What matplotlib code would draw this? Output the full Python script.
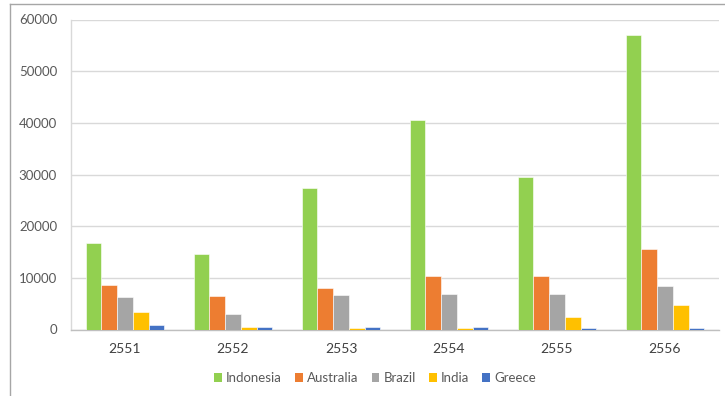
import matplotlib
matplotlib.use("Agg")
import matplotlib.pyplot as plt
from matplotlib.lines import Line2D
from matplotlib.patches import Patch
import numpy as np

years = ["2551", "2552", "2553", "2554", "2555", "2556"]
countries = ["Indonesia", "Australia", "Brazil", "India", "Greece"]
indonesia = [16800, 14700, 27400, 40500, 29500, 57000]
australia = [8600, 6400, 8000, 10300, 10300, 15600]
brazil = [6200, 3050, 6700, 6900, 6900, 8500]
india = [3450, 400, 300, 300, 2400, 4700]
greece = [800, 400, 400, 500, 350, 200]
colors = ["#92D050", "#ED7D31", "#A5A5A5", "#FFC000", "#4472C4"]

plt.rcParams["font.family"] = ["Lato", "DejaVu Sans"]

fig = plt.figure(figsize=(7.25, 3.96), dpi=100)
fig.patch.set_facecolor("white")
ax = fig.add_axes([71 / 725, 1 - 329.5 / 396, 648 / 725, 310 / 396])

series = [indonesia, australia, brazil, india, greece]
x = np.arange(len(years))
bw = 0.146
for i, (vals, c) in enumerate(zip(series, colors)):
    ax.bar(x + (i - 2) * bw, vals, width=bw, color=c, label=countries[i],
           edgecolor="white", linewidth=0.4, zorder=3)

ax.set_xlim(-0.5, len(years) - 0.5)
ax.set_ylim(0, 60000)
ax.set_yticks(range(0, 60001, 10000))
ax.set_xticks(x)
ax.set_xticklabels(years, fontsize=10, color="#404040")
ax.tick_params(axis="y", labelsize=9.5, colors="#595959", length=0, pad=10)
ax.tick_params(axis="x", length=0, pad=10)

ax.grid(axis="y", color="#D9D9D9", linewidth=1.0, zorder=0)
for s in ["top", "right"]:
    ax.spines[s].set_visible(False)
ax.spines["left"].set_color("#D9D9D9")
ax.spines["bottom"].set_color("#BFBFBF")
ax.spines["left"].set_linewidth(1.0)
ax.spines["bottom"].set_linewidth(1.0)

handles = [Patch(facecolor=c, edgecolor="none") for c in colors]
fig.legend(handles, countries, loc="center", bbox_to_anchor=(375 / 725, 18 / 396),
           ncol=5, frameon=False, fontsize=9.5, handlelength=0.6, handleheight=0.6,
           handletextpad=0.3, columnspacing=1.0, labelcolor="#595959")

# outer frame (left and top edges of the screenshot)
fig.add_artist(Line2D([10 / 725, 10 / 725], [0, 1 - 4 / 396], color="#A6A6A6", linewidth=1.0))
fig.add_artist(Line2D([10 / 725, 1], [1 - 4 / 396, 1 - 4 / 396], color="#A6A6A6", linewidth=1.0))

fig.savefig("out.png", dpi=100, facecolor="white")
